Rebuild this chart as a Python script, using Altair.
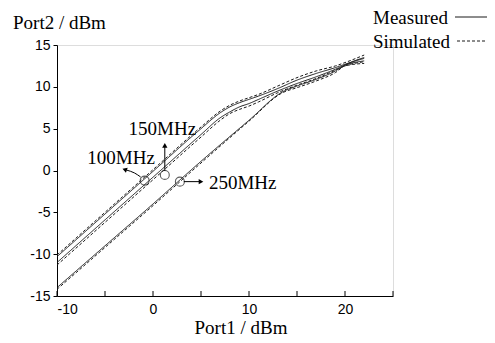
import altair as alt
import pandas as pd

# ---- data ----
x_a = [-10, -5, 0, 5, 7, 8, 9, 10, 11, 13, 15, 17, 19, 20, 22]
m100 = [-10.3, -5.2, -0.1, 5.0, 6.9, 7.6, 8.1, 8.5, 8.9, 9.8, 10.8, 11.6, 12.3, 12.7, 13.4]
s100 = [-10.1, -5.0, 0.1, 5.2, 7.1, 7.8, 8.3, 8.7, 9.1, 10.1, 11.1, 11.9, 12.5, 12.9, 13.8]
m150 = [-11.0, -5.9, -0.8, 4.3, 6.3, 7.0, 7.6, 8.0, 8.5, 9.5, 10.4, 11.2, 12.1, 12.6, 13.1]
s150 = [-11.3, -6.2, -1.1, 4.0, 6.0, 6.8, 7.3, 7.7, 8.2, 9.3, 10.2, 11.0, 12.0, 12.5, 13.0]

x_b = [-10, -5, 0, 5, 10, 13.5, 15, 17, 19, 20, 22]
m250 = [-14.0, -9.0, -4.0, 1.1, 6.0, 9.4, 10.1, 10.9, 11.9, 12.6, 13.5]
s250 = [-14.2, -9.2, -4.2, 0.9, 5.9, 9.3, 9.9, 10.7, 11.7, 12.5, 12.8]

series = [
    ("100MHz", "Measured", x_a, m100),
    ("100MHz", "Simulated", x_a, s100),
    ("150MHz", "Measured", x_a, m150),
    ("150MHz", "Simulated", x_a, s150),
    ("250MHz", "Measured", x_b, m250),
    ("250MHz", "Simulated", x_b, s250),
]
rows = []
for f, k, xs_, ys_ in series:
    for xv, yv in zip(xs_, ys_):
        rows.append({"freq": f, "kind": k, "sid": f + k, "x": xv, "y": yv})
df = pd.DataFrame(rows)

# annotation markers
circ_x = [-0.87, 1.23, 2.80]
circ_y = [-1.21, -0.53, -1.33]
lab_text = ["100MHz", "150MHz", "250MHz"]
lab_x = [-6.84, -2.54, 5.83]
lab_y = [0.83, 4.21, -2.19]

arr_id = ["a100", "a100", "a100", "a150", "a150", "a250", "a250"]
arr_x = [-1.29, -1.92, -2.75, 1.23, 1.23, 3.21, 5.0]
arr_y = [-0.77, -0.30, 0.05, -0.06, 3.0, -1.33, -1.33]
arr_ord = [0, 1, 2, 0, 1, 0, 1]
head_x = [-2.95, 1.23, 5.0]
head_y = [0.12, 3.0, -1.33]
head_angle = [290, 0, 90]

x_ticks = [-10, -5, 0, 5, 10, 15, 20, 25]
x_labels = [-10, 0, 10, 20]
y_labels = [-15, -10, -5, 0, 5, 10, 15]

INK = "#1a1a1a"
SERIF = "Liberation Serif"
SANS = "Liberation Sans"

xs = alt.Scale(domain=[-10, 25], nice=False, zero=False)
ys = alt.Scale(domain=[-15, 15], nice=False, zero=False)

lines = alt.Chart(df).mark_line(strokeWidth=1, color=INK, interpolate="monotone").encode(
    x=alt.X("x:Q", scale=xs, axis=alt.Axis(
        values=x_labels, ticks=False, title=None, grid=False,
        labelFont=SANS, labelFontSize=14, labelColor="black", labelPadding=6,
        labelExpr="'' + datum.value", domainColor="black", domainWidth=1)),
    y=alt.Y("y:Q", scale=ys, axis=alt.Axis(
        values=y_labels, tickSize=4, tickColor="black", title=None, grid=False,
        labelFont=SANS, labelFontSize=14, labelColor="black", labelPadding=3,
        labelExpr="'' + datum.value", domainColor="black", domainWidth=1)),
    detail="sid:N",
    strokeDash=alt.StrokeDash("kind:N", scale=alt.Scale(
        domain=["Measured", "Simulated"], range=[[1, 0], [3, 2]]), legend=None),
)

tick_df = pd.DataFrame({"x": x_ticks})
ticks = alt.Chart(tick_df).mark_rule(color="black", strokeWidth=1).encode(
    x=alt.X("x:Q", scale=xs), y=alt.value(251), y2=alt.value(246))

circ_df = pd.DataFrame({"x": circ_x, "y": circ_y})
circles = alt.Chart(circ_df).mark_point(shape="circle", size=80, filled=False,
                                        color=INK, strokeWidth=1.1).encode(
    x=alt.X("x:Q", scale=xs), y=alt.Y("y:Q", scale=ys))

arr_df = pd.DataFrame({"id": arr_id, "x": arr_x, "y": arr_y, "o": arr_ord})
arrows = alt.Chart(arr_df).mark_line(color="black", strokeWidth=1, interpolate="monotone").encode(
    x=alt.X("x:Q", scale=xs), y=alt.Y("y:Q", scale=ys), detail="id:N", order="o:Q")

head_df = pd.DataFrame({"x": head_x, "y": head_y, "a": head_angle})
heads = alt.Chart(head_df).mark_point(shape="triangle-up", size=28, filled=True,
                                      color="black", opacity=1).encode(
    x=alt.X("x:Q", scale=xs), y=alt.Y("y:Q", scale=ys),
    angle=alt.Angle("a:Q", scale=None))

lab_df = pd.DataFrame({"x": lab_x, "y": lab_y, "t": lab_text})
labels = alt.Chart(lab_df).mark_text(font=SERIF, fontSize=19, align="left",
                                     baseline="alphabetic", color="black").encode(
    x=alt.X("x:Q", scale=xs), y=alt.Y("y:Q", scale=ys), text="t:N")

one = pd.DataFrame({"d": [0]})


def txt(s, px, py, align="left", size=19):
    return alt.Chart(one).mark_text(font=SERIF, fontSize=size, align=align,
                                    baseline="alphabetic", color="black").encode(
        x=alt.value(px), y=alt.value(py), text=alt.value(s))


ytitle = txt("Port2 / dBm", -44, -16)
xtitle = txt("Port1 / dBm", 184, 289, align="center")
leg1 = txt("Measured", 316, -21)
leg2 = txt("Simulated", 316, 3)
legline1 = alt.Chart(one).mark_rule(color=INK, strokeWidth=1).encode(
    x=alt.value(398), x2=alt.value(430), y=alt.value(-28))
legline2 = alt.Chart(one).mark_rule(color=INK, strokeWidth=1, strokeDash=[3, 2]).encode(
    x=alt.value(400), x2=alt.value(430), y=alt.value(-4))

chart = alt.layer(
    lines, ticks, circles, arrows, heads, labels,
    ytitle, xtitle, leg1, leg2, legline1, legline2,
).properties(
    width=336, height=251,
    padding={"left": 49, "top": 37, "right": 94, "bottom": 46},
    autosize=alt.AutoSizeParams(type="none"),
).configure_view(stroke=None).configure(background="white")

chart.save("out.html", embed_options={"renderer": "svg", "actions": False})
